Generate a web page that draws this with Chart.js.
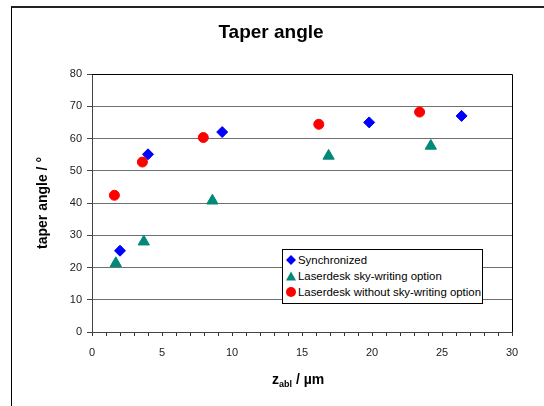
<!DOCTYPE html>
<html>
<head>
<meta charset="utf-8">
<script src="https://cdn.jsdelivr.net/npm/chart.js@4"></script>
<style>
  html, body { margin:0; padding:0; background:#fff; width:544px; height:406px; overflow:hidden; }
  #frame { position:absolute; left:11px; top:6px; width:600px; height:500px; border-left:1px solid #000; border-top:2px solid #222; }
  #wrap { position:absolute; left:0; top:0; width:544px; height:406px; }
  #xtitle { position:absolute; left:0; width:600px; top:371px; font:bold 14px "Liberation Sans", Arial, sans-serif; color:#000; }
  #xtitle sub { font-size:9px; vertical-align:-3px; line-height:0; }
  #legend { position:absolute; left:282px; top:249px; width:199px; height:51px; border:1px solid #000; background:#fff;
            font:11.4px "Liberation Sans", Arial, sans-serif; color:#000; padding-top:2px; box-sizing:content-box; }
  #legend .it { height:16px; line-height:16px; white-space:nowrap; position:relative; padding-left:15px; }
  #legend svg { position:absolute; left:3px; top:3px; }
</style>
</head>
<body>
<div id="frame"></div>
<div id="wrap"><canvas id="c" width="544" height="406"></canvas></div>
<div id="xtitle"><span style="position:absolute;left:272px;">z<sub>abl</sub> / µm</span></div>
<div id="legend"></div>
<script>
const chartTitle = 'Taper angle';
const yAxisTitle = 'taper angle / °';
const seriesNames = ['Synchronized', 'Laserdesk sky-writing option', 'Laserdesk without sky-writing option'];

const syncX = [2.0, 4.0, 9.3, 19.8, 26.4];
const syncY = [25.2, 55.1, 62.0, 65.0, 67.0];
const skyX = [1.7, 3.7, 8.6, 16.9, 24.2];
const skyY = [21.3, 28.0, 40.7, 54.6, 57.7];
const noSkyX = [1.6, 3.6, 7.95, 16.2, 23.4];
const noSkyY = [42.4, 52.7, 60.3, 64.4, 68.2];

const xMin = 0, xMax = 30, xMajor = 5, xMinor = 1;
const yMin = 0, yMax = 80, yStep = 10;

const colors = ['#0000FF', '#008878', '#FF0000'];

function pts(xs, ys) { return xs.map((x, i) => ({ x: x, y: ys[i] })); }

const frameBorder = {
  id: 'frameBorder',
  afterDraw(chart) {
    const { ctx, chartArea: a } = chart;
    ctx.save();
    ctx.strokeStyle = '#000';
    ctx.lineWidth = 1;
    ctx.beginPath();
    ctx.moveTo(a.left, a.top + 0.5);
    ctx.lineTo(a.right + 0.5, a.top + 0.5);
    ctx.lineTo(a.right + 0.5, a.bottom);
    ctx.stroke();
    ctx.restore();
  }
};

const font = '"Liberation Sans", Arial, sans-serif';

new Chart(document.getElementById('c'), {
  type: 'scatter',
  data: {
    datasets: [
      { label: seriesNames[0], data: pts(syncX, syncY), pointStyle: 'rectRot', pointRadius: 5.5,
        backgroundColor: colors[0], borderColor: colors[0], borderWidth: 1, order: 3 },
      { label: seriesNames[1], data: pts(skyX, skyY), pointStyle: 'triangle', pointRadius: 6.5,
        backgroundColor: colors[1], borderColor: colors[1], borderWidth: 1, order: 2 },
      { label: seriesNames[2], data: pts(noSkyX, noSkyY), pointStyle: 'circle', pointRadius: 5,
        backgroundColor: colors[2], borderColor: colors[2], borderWidth: 1, order: 1 }
    ]
  },
  options: {
    responsive: false,
    animation: false,
    events: [],
    layout: { padding: { left: 30, right: 32, top: 0, bottom: 0 } },
    plugins: {
      legend: { display: false },
      tooltip: { enabled: false },
      title: { display: true, text: chartTitle, color: '#000',
               font: { family: font, size: 19, weight: 'bold', lineHeight: 1.2 },
               padding: { top: 21.6, bottom: 29.6 } }
    },
    scales: {
      x: {
        type: 'linear', min: xMin, max: xMax,
        afterFit(s) { s.height = 74; },
        afterBuildTicks(s) {
          const t = [];
          for (let v = xMin; v <= xMax + 1e-9; v += xMinor) t.push({ value: v });
          s.ticks = t;
        },
        ticks: { stepSize: xMinor, autoSkip: false, maxRotation: 0, padding: 10, color: '#222',
                 font: { family: font, size: 11 },
                 callback: v => (v % xMajor === 0 ? String(v) : '') },
        grid: { drawOnChartArea: false, tickLength: 4, color: '#333', tickColor: '#333' },
        border: { display: true, color: '#444', width: 1 }
      },
      y: {
        type: 'linear', min: yMin, max: yMax,
        afterFit(s) { s.width = 62; },
        ticks: { stepSize: yStep, padding: 5, color: '#222', font: { family: font, size: 11 } },
        grid: { color: '#707070', tickLength: 5, tickColor: '#444' },
        border: { display: true, color: '#444', width: 1 },
        title: { display: true, text: yAxisTitle, color: '#000',
                 font: { family: font, size: 14, weight: 'bold', lineHeight: 1.2 },
                 padding: { top: 4.6, bottom: 0 } }
      }
    }
  },
  plugins: [frameBorder]
});

// HTML legend
const shapes = [
  '<svg width="10" height="10" viewBox="0 0 10 10"><polygon points="5,0 10,5 5,10 0,5" fill="' + colors[0] + '"/></svg>',
  '<svg width="10" height="10" viewBox="0 0 10 10"><polygon points="5,0.5 10,9.5 0,9.5" fill="' + colors[1] + '"/></svg>',
  '<svg width="10" height="10" viewBox="0 0 10 10"><circle cx="5" cy="5" r="5" fill="' + colors[2] + '"/></svg>'
];
const lg = document.getElementById('legend');
seriesNames.forEach((n, i) => {
  const d = document.createElement('div');
  d.className = 'it';
  d.innerHTML = shapes[i];
  d.appendChild(document.createTextNode(n));
  lg.appendChild(d);
});
</script>
</body>
</html>
